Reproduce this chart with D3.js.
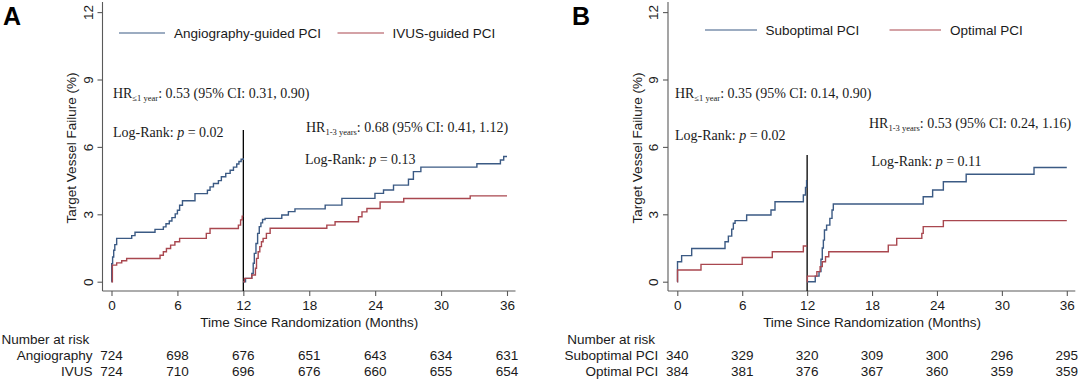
<!DOCTYPE html>
<html><head><meta charset="utf-8">
<script src="https://cdn.jsdelivr.net/npm/d3@7"></script>
<style>
html,body{margin:0;padding:0;background:#fff;}
svg{display:block;}
.sans{font-family:"Liberation Sans",Arial,Helvetica,sans-serif;}
.serif{font-family:"Liberation Serif","Times New Roman",Times,serif;}
</style></head>
<body>
<svg id="chart" width="1080" height="380"></svg>
<script>
// ---------- data ----------
const monthTicks = [0, 6, 12, 18, 24, 30, 36];
const yTicks = [0, 3, 6, 9, 12];

// Panel A (time in months, cumulative TVF %)
const angioP1 = [[0,0],[0.02,0.8],[0.1,1.1],[0.2,1.4],[0.3,1.65],[0.47,1.93],[1.84,2.05],[2.14,2.2],[3.96,2.33],[4.72,2.44],[4.96,2.58],[5.26,2.7],[5.5,2.85],[5.8,3.02],[6.0,3.18],[6.2,3.4],[6.46,3.6],[7.6,3.92],[8.73,4.07],[8.97,4.22],[9.28,4.37],[9.73,4.5],[10.0,4.67],[10.4,4.82],[10.8,4.96],[11.1,5.1],[11.4,5.24],[11.6,5.35],[11.8,5.45],[12,5.5]];
const ivusP1 = [[0,0],[0.08,0.74],[0.47,0.84],[0.93,0.93],[1.38,1.03],[4.42,1.18],[4.72,1.33],[5.0,1.48],[5.38,1.63],[5.77,1.78],[6.2,1.93],[8.63,2.15],[8.97,2.37],[11.55,2.52],[11.75,2.75],[11.9,2.92],[12,2.92]];
const angioP2 = [[12,0],[12.2,0.15],[12.77,0.37],[12.9,0.82],[13.0,1.26],[13.15,1.7],[13.3,2.15],[13.45,2.45],[13.6,2.62],[13.75,2.77],[13.98,2.82],[15.5,2.97],[16.1,3.12],[16.7,3.24],[19.45,3.41],[20.97,3.71],[23.98,3.93],[24.76,4.08],[25.67,4.3],[27.03,4.56],[27.48,4.9],[28.16,5.1],[33.26,5.25],[35.4,5.42],[35.7,5.57],[36,5.57]];
const ivusP2 = [[12,0],[12.1,0.15],[12.77,0.3],[13.1,0.6],[13.2,1.04],[13.35,1.33],[13.5,1.56],[13.65,1.78],[13.8,1.93],[14.1,2.15],[14.44,2.38],[19.6,2.52],[20.35,2.67],[22.48,2.89],[22.8,3.11],[23.25,3.26],[24.45,3.55],[26.6,3.7],[32.65,3.82],[36,3.82]];

// Panel B
const subP1 = [[0,0],[0.02,0.89],[0.4,1.16],[1.33,1.48],[4.41,1.78],[4.72,2.03],[5.03,2.34],[5.18,2.6],[5.34,2.72],[6.41,2.97],[8.66,3.19],[9.03,3.56],[11.65,3.86],[11.85,4.2],[11.95,4.5],[12,4.5]];
const optP1 = [[0,0],[0.02,0.52],[2.19,0.77],[6.0,1.08],[8.78,1.33],[11.65,1.59],[12,1.59]];
const subP2 = [[12,0],[12.75,0.25],[13.1,0.45],[13.28,1.0],[13.4,1.5],[13.5,1.85],[13.6,2.3],[13.8,2.52],[14.1,2.82],[14.3,3.19],[14.42,3.46],[22.73,3.78],[23.6,4.08],[24.59,4.45],[26.7,4.78],[32.97,5.08],[36,5.08]];
const optP2 = [[12,0],[12.02,0.25],[12.9,0.45],[13.2,0.67],[13.4,0.89],[13.7,1.11],[14.0,1.33],[19.5,1.63],[20.28,1.93],[22.6,2.15],[22.73,2.45],[24.59,2.72],[36,2.72]];

// Numbers at risk
const riskAngio = [724, 698, 676, 651, 643, 634, 631];
const riskIvus = [724, 710, 696, 676, 660, 655, 654];
const riskSub = [340, 329, 320, 309, 300, 296, 295];
const riskOpt = [384, 381, 376, 367, 360, 359, 359];

// Labels
const legendA = ["Angiography-guided PCI", "IVUS-guided PCI"];
const legendB = ["Suboptimal PCI", "Optimal PCI"];
const riskLabelsA = ["Angiography", "IVUS"];
const riskLabelsB = ["Suboptimal PCI", "Optimal PCI"];
const statsA = {hr1: ": 0.53 (95% CI: 0.31, 0.90)", hr2: ": 0.68 (95% CI: 0.41, 1.12)", p1: "0.02", p2: "0.13"};
const statsB = {hr1: ": 0.35 (95% CI: 0.14, 0.90)", hr2: ": 0.53 (95% CI: 0.24, 1.16)", p1: "0.02", p2: "0.11"};

// ---------- drawing ----------
const BLUE = "#3b5a84", RED = "#a9474f", AXIS = "#5a5a5a", TXT = "#1a1a1a";
const svg = d3.select("#chart");

function panel(cfg) {
  const g = svg.append("g");
  const x = d3.scaleLinear().domain([0, 36]).range([cfg.x0, cfg.x36]);
  const y = d3.scaleLinear().domain([0, 12]).range([281.7, 12.1]);
  const xAxisY = 291, yAxisX = cfg.axisX;

  // panel letter
  g.append("text").attr("class", "sans").attr("x", cfg.letterX).attr("y", 25)
    .attr("font-size", 25).attr("font-weight", "bold").attr("fill", "#000").text(cfg.letter);

  // axis lines
  g.append("line").attr("x1", yAxisX).attr("x2", yAxisX).attr("y1", 2).attr("y2", xAxisY)
    .attr("stroke", AXIS).attr("stroke-width", 1.1);
  g.append("line").attr("x1", yAxisX).attr("x2", cfg.x36 + 8.5).attr("y1", xAxisY).attr("y2", xAxisY)
    .attr("stroke", AXIS).attr("stroke-width", 1.1);

  // y axis
  const ya = g.append("g").attr("transform", `translate(${yAxisX},0)`)
    .call(d3.axisLeft(y).tickValues(yTicks).tickSize(5).tickFormat(d3.format("d")));
  ya.select(".domain").remove();
  ya.selectAll(".tick line").attr("stroke", AXIS).attr("stroke-width", 1.1);
  ya.selectAll(".tick text").attr("class", "sans").attr("x", 0).attr("dy", null)
    .attr("transform", "translate(-14.5,0) rotate(-90)")
    .attr("text-anchor", "middle").attr("dominant-baseline", "central")
    .attr("font-size", 13.5).attr("fill", TXT);

  // x axis
  const xa = g.append("g").attr("transform", `translate(0,${xAxisY})`)
    .call(d3.axisBottom(x).tickValues(monthTicks).tickSize(5).tickFormat(d3.format("d")));
  xa.select(".domain").remove();
  xa.selectAll(".tick line").attr("stroke", AXIS).attr("stroke-width", 1.1);
  xa.selectAll(".tick text").attr("class", "sans").attr("y", 14).attr("dy", null)
    .attr("dominant-baseline", "central").attr("font-size", 13.5).attr("fill", TXT);

  // axis titles
  g.append("text").attr("class", "sans")
    .attr("transform", `translate(${yAxisX - 31},148) rotate(-90)`)
    .attr("text-anchor", "middle").attr("dominant-baseline", "central")
    .attr("font-size", 13.5).attr("fill", TXT).text("Target Vessel Failure (%)");
  g.append("text").attr("class", "sans")
    .attr("x", (cfg.x0 + cfg.x36) / 2).attr("y", 322)
    .attr("text-anchor", "middle").attr("dominant-baseline", "central")
    .attr("font-size", 13.5).attr("fill", TXT).text("Time Since Randomization (Months)");

  // landmark vertical line
  g.append("line").attr("x1", x(12)).attr("x2", x(12)).attr("y1", cfg.vTop).attr("y2", xAxisY)
    .attr("stroke", "#000").attr("stroke-width", 1.3);

  // curves
  const line = d3.line().x(d => x(d[0])).y(d => y(d[1])).curve(d3.curveStepAfter);
  cfg.series.forEach(s => {
    g.append("path").datum(s.data).attr("d", line).attr("fill", "none")
      .attr("stroke", s.color).attr("stroke-width", 1.4);
  });

  // legend
  cfg.legend.forEach((L, i) => {
    g.append("line").attr("x1", L.lx1).attr("x2", L.lx2).attr("y1", cfg.legY).attr("y2", cfg.legY)
      .attr("stroke", i === 0 ? BLUE : RED).attr("stroke-width", 1.2);
    g.append("text").attr("class", "sans").attr("x", L.tx).attr("y", cfg.legY)
      .attr("dominant-baseline", "central").attr("font-size", 13.5).attr("fill", TXT).text(L.label);
  });

  // annotations
  function hr(xp, yp, sub, rest) {
    const t = g.append("text").attr("class", "serif").attr("x", xp).attr("y", yp)
      .attr("font-size", 14).attr("fill", TXT);
    t.append("tspan").text("HR");
    t.append("tspan").attr("font-size", 8.5).attr("dy", 3).text(sub);
    t.append("tspan").attr("dy", -3).text(rest);
  }
  function lr(xp, yp, p) {
    const t = g.append("text").attr("class", "serif").attr("x", xp).attr("y", yp)
      .attr("font-size", 14).attr("fill", TXT);
    t.append("tspan").text("Log-Rank: ");
    t.append("tspan").attr("font-style", "italic").text("p");
    t.append("tspan").text(" = " + p);
  }
  hr(cfg.ann.hr1[0], cfg.ann.hr1[1], "\u22641 year", cfg.stats.hr1);
  lr(cfg.ann.lr1[0], cfg.ann.lr1[1], cfg.stats.p1);
  hr(cfg.ann.hr2[0], cfg.ann.hr2[1], "1-3 years", cfg.stats.hr2);
  lr(cfg.ann.lr2[0], cfg.ann.lr2[1], cfg.stats.p2);

  // number at risk
  g.append("text").attr("class", "sans").attr("x", cfg.x0 - 110).attr("y", 339)
    .attr("dominant-baseline", "central").attr("font-size", 13.5).attr("fill", TXT).text("Number at risk");
  cfg.risk.forEach((r, i) => {
    const ry = 355 + i * 16.5;
    g.append("text").attr("class", "sans").attr("x", cfg.x0 - 19).attr("y", ry)
      .attr("text-anchor", "end").attr("dominant-baseline", "central")
      .attr("font-size", 13.5).attr("fill", TXT).text(r.label);
    g.selectAll(null).data(r.values).enter().append("text").attr("class", "sans")
      .attr("x", (d, j) => x(monthTicks[j])).attr("y", ry)
      .attr("text-anchor", "middle").attr("dominant-baseline", "central")
      .attr("font-size", 13.5).attr("fill", TXT).text(d => d);
  });
}

panel({
  letter: "A", letterX: 3, x0: 111.5, x36: 507, axisX: 102.5, vTop: 130, legY: 33,
  series: [{data: angioP1, color: BLUE}, {data: ivusP1, color: RED}, {data: angioP2, color: BLUE}, {data: ivusP2, color: RED}],
  legend: [{lx1: 119, lx2: 165, tx: 174, label: legendA[0]}, {lx1: 337.5, lx2: 384, tx: 392.5, label: legendA[1]}],
  ann: {hr1: [113, 97.5], lr1: [113, 137], hr2: [306, 132], lr2: [305, 163.5]},
  stats: statsA,
  risk: [{label: riskLabelsA[0], values: riskAngio}, {label: riskLabelsA[1], values: riskIvus}]
});
panel({
  letter: "B", letterX: 572, x0: 677.3, x36: 1066.8, axisX: 668, vTop: 155, legY: 30,
  series: [{data: subP1, color: BLUE}, {data: optP1, color: RED}, {data: subP2, color: BLUE}, {data: optP2, color: RED}],
  legend: [{lx1: 705, lx2: 757, tx: 765.5, label: legendB[0]}, {lx1: 889.5, lx2: 941, tx: 950, label: legendB[1]}],
  ann: {hr1: [675, 98], lr1: [675, 140], hr2: [869, 128], lr2: [871.5, 166]},
  stats: statsB,
  risk: [{label: riskLabelsB[0], values: riskSub}, {label: riskLabelsB[1], values: riskOpt}]
});
</script>
</body></html>
